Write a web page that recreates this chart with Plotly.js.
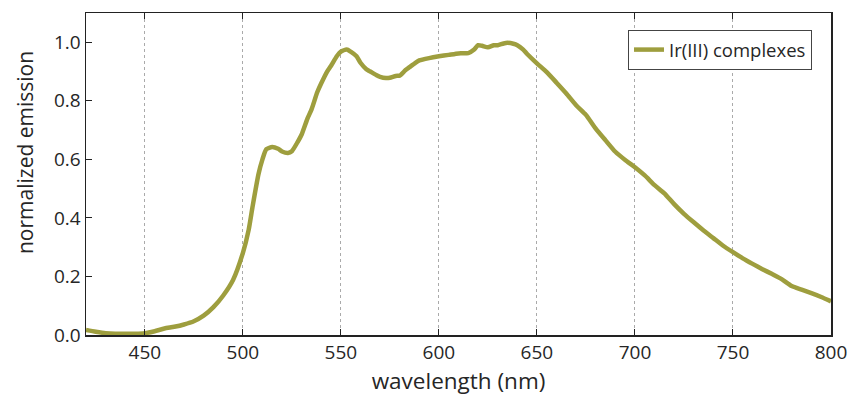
<!DOCTYPE html>
<html>
<head>
<meta charset="utf-8">
<script src="https://cdn.plot.ly/plotly-3.0.1.min.js"></script>
<style>html,body{margin:0;padding:0;background:#fff;}</style>
</head>
<body>
<div id="chart" style="width:851px;height:400px;"></div>
<script>
const wavelength = [420,425,430,435,440,445,450,455,460,465,470,475,480,485,490,495,500,503,505,508,510,512,515,518,520,523,525,528,530,533,535,538,540,543,545,548,550,553,555,558,560,563,565,568,570,573,575,578,580,583,585,588,590,595,600,605,610,615,618,620,622,625,628,630,633,635,638,640,643,645,650,655,660,665,670,675,680,685,690,695,700,705,710,715,720,725,730,735,740,745,750,755,760,765,770,775,780,785,790,795,800];
const emission = [0.017,0.011,0.006,0.004,0.004,0.004,0.006,0.013,0.022,0.028,0.036,0.047,0.066,0.095,0.135,0.188,0.28,0.36,0.44,0.55,0.60,0.635,0.642,0.636,0.627,0.622,0.628,0.66,0.685,0.74,0.77,0.83,0.86,0.90,0.92,0.953,0.968,0.975,0.968,0.952,0.93,0.908,0.9,0.888,0.882,0.878,0.879,0.885,0.886,0.905,0.915,0.93,0.938,0.946,0.952,0.957,0.962,0.963,0.975,0.99,0.988,0.983,0.99,0.99,0.996,0.998,0.995,0.99,0.975,0.96,0.928,0.898,0.862,0.825,0.785,0.752,0.705,0.665,0.626,0.598,0.573,0.545,0.512,0.484,0.447,0.414,0.385,0.357,0.331,0.305,0.283,0.262,0.243,0.225,0.208,0.19,0.167,0.155,0.143,0.13,0.115];
const seriesName = 'Ir(III) complexes';
const xTitle = 'wavelength (nm)';
const yTitle = 'normalized emission';

const fam = '"Open Sans", "Noto Sans", sans-serif';
const col = '#262626';
const f = (s) => ({family: fam, color: col, size: s});

Plotly.newPlot('chart', [{
  x: wavelength, y: emission, type: 'scatter', mode: 'lines', name: seriesName,
  line: {color: '#9e9e3e', width: 4.5, shape: 'spline', smoothing: 0.6}
}], {
  width: 851, height: 400,
  margin: {l: 86, r: 20, t: 13, b: 65},
  paper_bgcolor: '#fff', plot_bgcolor: '#fff',
  font: f(18),
  showlegend: true,
  legend: {
    x: 0.9745, xanchor: 'right', y: 0.947, yanchor: 'top',
    bgcolor: '#fff', bordercolor: '#444', borderwidth: 1,
    font: f(18.5), tracegroupgap: 0
  },
  xaxis: {
    range: [420, 800], tick0: 450, dtick: 50,
    ticks: 'inside', ticklen: 6, tickcolor: '#222', mirror: 'ticks',
    showline: true, linecolor: '#222', linewidth: 1.5,
    showgrid: true, gridcolor: '#aaaaaa', griddash: 'dot', gridwidth: 1,
    zeroline: false,
    tickfont: f(19),
    title: {text: xTitle, font: f(22.5), standoff: 8}
  },
  yaxis: {
    range: [0, 1.1], tick0: 0, dtick: 0.2, tickformat: '.1f',
    ticks: 'inside', ticklen: 6, tickcolor: '#222', mirror: true,
    showline: true, linecolor: '#222', linewidth: 1.5,
    showgrid: false, zeroline: false,
    tickfont: f(19)
  },
  annotations: [{
    text: yTitle, textangle: -90, showarrow: false,
    xref: 'paper', yref: 'paper', x: -0.082, y: 0.568,
    xanchor: 'center', yanchor: 'middle', font: f(21)
  }]
}, {displayModeBar: false, staticPlot: true});
</script>
</body>
</html>
